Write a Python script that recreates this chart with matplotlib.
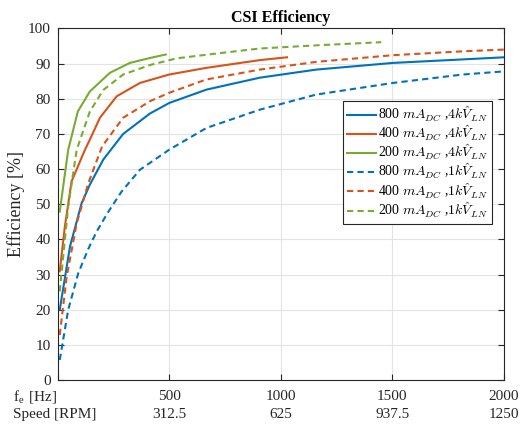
import matplotlib
matplotlib.use('Agg')
import matplotlib.pyplot as plt

# electrical frequency [Hz] and efficiency [%]
f_800_4k = [10, 56, 108, 145, 205, 294, 414, 500, 667, 906, 1159, 1502, 1815, 2000]
e_800_4k = [20.0, 38.0, 50.3, 55.6, 62.7, 70.0, 75.8, 78.8, 82.6, 86.0, 88.3, 90.2, 91.2, 91.8]

f_400_4k = [10, 33, 63, 123, 145, 190, 265, 369, 500, 667, 906, 1028]
e_400_4k = [30.9, 43.7, 56.5, 65.5, 68.4, 74.6, 80.7, 84.5, 86.9, 88.8, 91.0, 91.8]

f_200_4k = [10, 48, 91, 145, 235, 324, 414, 485]
e_200_4k = [47.9, 65.5, 76.4, 82.1, 87.4, 90.2, 91.6, 92.6]

f_800_1k = [10, 48, 93, 138, 175, 227, 287, 369, 500, 667, 906, 1159, 1502, 1815, 2000]
e_800_1k = [5.7, 20.0, 30.4, 37.3, 42.2, 47.8, 53.6, 59.8, 65.5, 71.7, 76.9, 81.2, 84.5, 86.9, 87.8]

f_400_1k = [10, 41, 86, 138, 200, 294, 414, 500, 667, 906, 1159, 1502, 1815, 2000]
e_400_1k = [12.8, 29.4, 44.6, 56.0, 66.5, 74.6, 79.3, 81.7, 85.5, 88.3, 90.5, 92.4, 93.5, 94.0]

f_200_1k = [10, 48, 86, 145, 205, 294, 414, 533, 742, 906, 1159, 1450]
e_200_1k = [25.2, 49.4, 65.5, 76.4, 82.5, 86.9, 89.6, 91.5, 93.1, 94.3, 95.2, 96.1]

hz_ticks = [0, 500, 1000, 1500, 2000]
rpm_ticks = ['', '312.5', '625', '937.5', '1250']

plt.rcParams['font.family'] = 'Liberation Serif'
plt.rcParams['mathtext.fontset'] = 'cm'

blue = '#0072BD'
orange = '#D95319'
green = '#77AC30'
dk = '#262626'

fig = plt.figure(figsize=(5.2, 4.25), dpi=100)
ax = fig.add_axes([0.1106, 0.1059, 0.8587, 0.8271])

lw = 1.5
kw = dict(lw=lw, solid_joinstyle='round', dash_joinstyle='round')
ax.plot(f_800_4k, e_800_4k, color=blue, label=r'800 $mA_{DC}$ ,$4k\hat{V}_{LN}$', **kw)
ax.plot(f_400_4k, e_400_4k, color=orange, label=r'400 $mA_{DC}$ ,$4k\hat{V}_{LN}$', **kw)
ax.plot(f_200_4k, e_200_4k, color=green, label=r'200 $mA_{DC}$ ,$4k\hat{V}_{LN}$', **kw)
ax.plot(f_800_1k, e_800_1k, color=blue, dashes=(3, 2), label=r'800 $mA_{DC}$ ,$1k\hat{V}_{LN}$', **kw)
ax.plot(f_400_1k, e_400_1k, color=orange, dashes=(3, 2), label=r'400 $mA_{DC}$ ,$1k\hat{V}_{LN}$', **kw)
ax.plot(f_200_1k, e_200_1k, color=green, dashes=(3, 2), label=r'200 $mA_{DC}$ ,$1k\hat{V}_{LN}$', **kw)

ax.set_xlim(0, 2000)
ax.set_ylim(0, 100)
ax.set_yticks(range(0, 101, 10))
ax.set_xticks(hz_ticks)
xl = []
for h, r in zip(hz_ticks, rpm_ticks):
	xl.append('' if r == '' else str(h) + '\n' + r)
ax.set_xticklabels(xl, linespacing=1.5)

ax.grid(color='#e3e3e3', lw=0.8)
ax.set_axisbelow(True)
ax.tick_params(direction='in', top=True, right=True, length=4, width=0.8,
			   colors=dk, labelsize=11)
ax.tick_params(axis='x', pad=7)
ax.tick_params(axis='y', pad=5)
for s in ax.spines.values():
	s.set_color(dk)
	s.set_linewidth(0.8)

fig.text(0.025, 0.066, r'f$_\mathregular{e}$ [Hz]', fontsize=11, color=dk, va='center')
fig.text(0.025, 0.024, 'Speed [RPM]', fontsize=11, color=dk, va='center')

ax.set_ylabel('Efficiency [%]', fontsize=13, color=dk, labelpad=2)
ax.set_title('CSI Efficiency', fontsize=11.5, fontweight='bold', color='black', pad=5)

leg = ax.legend(loc='upper right', bbox_to_anchor=(0.973, 0.795), borderaxespad=0,
				fontsize=10, fancybox=False, framealpha=1, edgecolor=dk,
				handlelength=2.1, handletextpad=0.15, labelspacing=0.0, borderpad=0.3)
leg.get_frame().set_linewidth(0.8)

fig.savefig('out.png', dpi=100)
